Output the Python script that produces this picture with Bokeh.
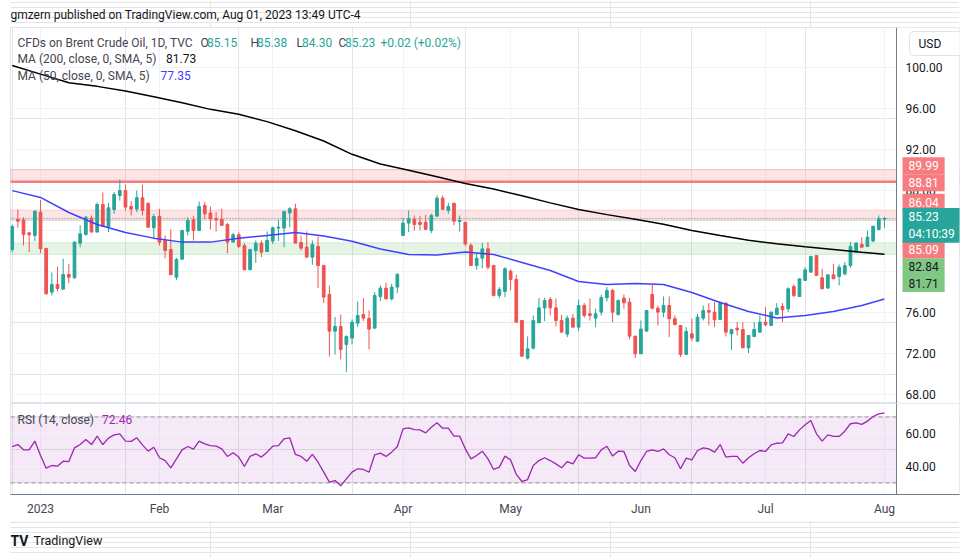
from bokeh.plotting import figure
from bokeh.models import (ColumnDataSource, Range1d, FixedTicker, Label, BoxAnnotation,
                          Span, Grid, LinearAxis, PrintfTickFormatter)
from bokeh.layouts import column
from bokeh.embed import file_html
from bokeh.resources import INLINE

# ---------------- data ----------------
opens = [82.19, 85.13, 85.09, 83.82, 83.56, 85.84, 82.29, 78.02, 78.77, 78.31,
         79.74, 79.42, 82.81, 83.66, 85.26, 83.89, 86.59, 84.44, 86.10, 87.47,
         87.96, 86.40, 86.14, 87.25, 86.69, 84.31, 85.42, 83.07, 82.19, 79.48,
         81.24, 83.98, 85.09, 84.05, 86.50, 85.77, 85.19, 85.13, 84.64, 82.91,
         83.63, 82.58, 80.20, 82.09, 82.81, 81.99, 83.01, 84.28, 84.28, 85.77,
         86.17, 82.87, 82.42, 81.44, 82.48, 80.62, 77.79, 74.20, 74.66, 72.90,
         73.52, 74.98, 75.83, 75.44, 74.49, 77.59, 78.41, 77.36, 78.51, 83.56,
         84.77, 85.13, 84.86, 84.86, 84.05, 85.45, 87.21, 86.01, 86.72, 84.93,
         84.86, 82.58, 80.62, 81.34, 82.25, 80.62, 77.69, 78.08, 80.07, 79.26,
         75.24, 71.56, 72.54, 75.02, 76.48, 77.30, 76.48, 75.24, 73.91, 75.47,
         74.59, 76.71, 75.90, 75.47, 76.06, 77.46, 78.18, 75.83, 77.43, 77.04,
         73.71, 71.98, 74.20, 77.79, 76.45, 76.06, 76.71, 75.41, 74.76, 71.92,
         73.94, 73.22, 75.47, 76.22, 76.06, 75.34, 76.94, 73.94, 74.49, 74.36,
         72.57, 73.68, 74.10, 75.08, 74.76, 75.83, 76.61, 76.38, 78.57, 77.59,
         79.16, 79.97, 81.60, 79.42, 78.41, 79.71, 79.55, 79.81, 80.62, 81.93,
         82.68, 82.48, 83.01, 84.15, 85.15]
highs = [84.64, 86.10, 85.35, 83.89, 86.01, 87.05, 82.35, 79.94, 80.53, 81.28,
         80.79, 82.97, 84.54, 85.45, 85.52, 86.79, 87.77, 86.76, 87.80, 89.04,
         88.55, 86.92, 87.96, 88.52, 86.82, 85.68, 86.17, 83.56, 84.15, 81.37,
         84.05, 85.35, 85.45, 86.89, 86.82, 86.40, 85.84, 86.17, 84.80, 83.82,
         83.89, 82.81, 82.25, 83.07, 83.07, 83.95, 84.44, 85.09, 85.91, 86.33,
         86.66, 83.56, 83.95, 83.07, 83.46, 80.69, 78.67, 75.57, 75.83, 73.78,
         75.34, 77.10, 77.43, 76.22, 78.02, 78.67, 78.93, 78.83, 79.88, 85.29,
         86.01, 85.52, 85.45, 85.58, 85.68, 87.47, 87.47, 86.76, 86.72, 85.52,
         84.86, 82.81, 81.77, 82.84, 82.91, 80.69, 78.51, 80.46, 80.23, 79.71,
         75.30, 73.68, 75.73, 77.43, 77.46, 77.53, 77.40, 75.80, 75.73, 75.90,
         77.30, 76.94, 77.40, 76.39, 77.76, 78.51, 78.34, 77.30, 77.79, 77.46,
         73.71, 75.24, 76.29, 78.73, 76.71, 77.59, 77.59, 75.73, 74.76, 74.59,
         75.41, 75.90, 76.71, 76.94, 77.04, 77.10, 77.04, 74.43, 75.08, 75.08,
         73.78, 75.08, 75.73, 76.55, 76.12, 76.94, 76.94, 78.50, 78.77, 79.32,
         80.46, 81.60, 81.60, 80.30, 79.71, 80.79, 80.72, 80.95, 82.91, 82.91,
         83.40, 84.05, 84.47, 85.52, 85.38]
lows = [81.93, 84.31, 82.58, 81.93, 83.01, 81.83, 77.79, 77.69, 78.11, 78.31,
        78.90, 79.32, 82.42, 83.56, 83.89, 83.89, 84.44, 83.89, 85.68, 86.98,
        86.01, 85.52, 85.84, 85.52, 84.37, 83.23, 82.58, 81.34, 79.71, 79.22,
        81.24, 83.56, 83.07, 83.98, 85.19, 84.15, 83.95, 84.54, 81.83, 82.91,
        82.35, 80.20, 80.20, 80.89, 81.44, 81.93, 82.74, 83.01, 82.42, 84.37,
        82.81, 82.09, 81.44, 80.69, 78.41, 76.94, 71.72, 71.92, 71.43, 70.19,
        72.90, 74.59, 75.18, 72.41, 74.49, 77.14, 77.30, 77.20, 77.92, 83.56,
        83.89, 84.05, 84.05, 84.15, 83.79, 85.45, 86.10, 85.68, 84.54, 83.95,
        82.52, 80.62, 80.23, 80.36, 80.23, 77.59, 77.43, 77.53, 78.18, 75.08,
        71.70, 71.43, 72.41, 75.02, 75.18, 75.73, 74.66, 74.10, 73.61, 74.59,
        74.20, 75.51, 75.24, 74.59, 75.73, 77.10, 75.08, 75.73, 76.39, 73.39,
        71.56, 71.98, 74.20, 76.32, 74.76, 75.57, 73.61, 74.76, 71.66, 71.92,
        73.22, 73.12, 75.24, 74.76, 74.59, 75.34, 73.68, 72.37, 73.78, 72.57,
        72.05, 73.61, 74.10, 74.66, 74.76, 75.83, 75.08, 76.06, 77.53, 77.59,
        79.16, 79.97, 79.65, 78.34, 78.34, 79.32, 78.67, 79.65, 80.40, 81.93,
        82.35, 82.48, 82.91, 84.05, 84.30]
closes = [84.44, 84.96, 83.66, 83.63, 85.94, 82.25, 77.85, 78.77, 78.37, 79.74,
          79.48, 82.91, 83.72, 85.35, 83.89, 86.59, 84.44, 86.27, 87.57, 87.96,
          86.33, 86.14, 87.25, 86.01, 84.37, 85.42, 82.91, 82.09, 79.71, 81.21,
          84.05, 85.03, 84.05, 86.40, 85.68, 85.19, 85.09, 84.54, 82.91, 83.63,
          82.48, 80.20, 82.19, 82.81, 81.93, 83.07, 84.31, 84.37, 85.91, 86.17,
          82.81, 82.32, 81.44, 82.68, 80.62, 77.53, 74.20, 74.66, 72.41, 73.68,
          75.08, 75.73, 75.47, 74.40, 77.69, 78.41, 77.36, 78.51, 79.75, 84.77,
          85.19, 84.64, 84.64, 84.15, 85.52, 87.21, 86.10, 86.40, 84.96, 85.03,
          82.74, 80.62, 81.34, 82.25, 80.46, 77.69, 78.28, 80.30, 79.26, 75.08,
          71.75, 72.47, 75.24, 76.48, 77.20, 76.48, 75.24, 74.10, 75.47, 74.59,
          76.71, 75.73, 75.73, 75.90, 77.50, 78.18, 76.06, 77.20, 76.97, 73.71,
          71.98, 74.40, 76.22, 76.45, 76.06, 76.71, 75.41, 74.85, 71.92, 74.17,
          73.52, 75.57, 76.22, 76.06, 75.31, 76.94, 74.10, 74.36, 74.33, 72.57,
          73.78, 74.36, 75.08, 74.82, 76.06, 76.45, 76.29, 78.34, 77.69, 79.32,
          80.20, 81.50, 79.65, 78.34, 79.71, 79.32, 80.46, 80.62, 82.48, 82.81,
          82.42, 83.40, 84.47, 85.19, 85.23]

ma_bars = [0, 5, 10, 15, 20, 25, 30, 35, 40, 45, 50, 55, 60, 65, 70, 75,
           80, 85, 90, 95, 100, 105, 110, 115, 120, 125, 130, 135, 140, 145, 150, 154]
ma200 = [100.20, 99.35, 98.50, 98.15, 97.70, 97.13, 96.55, 95.90, 95.42, 94.70,
         93.80, 92.80, 91.50, 90.55, 89.95, 89.30, 88.65, 88.10, 87.45, 86.75,
         86.10, 85.60, 85.15, 84.65, 84.05, 83.55, 83.10, 82.75, 82.45, 82.20,
         81.93, 81.73]
ma50 = [87.95, 87.28, 85.81, 84.64, 83.86, 83.30, 82.91, 82.91, 83.30, 83.56,
        83.86, 83.51, 83.00, 82.23, 81.70, 81.65, 81.95, 81.70, 80.92, 80.14,
        79.06, 78.77, 78.86, 78.77, 77.98, 77.00, 76.13, 75.49, 75.73, 76.13,
        76.71, 77.35]

rsi = [52.1, 53.3, 50.1, 50.1, 55.4, 46.7, 39.0, 40.6, 40.2, 43.2,
       43.0, 51.3, 53.3, 56.4, 53.3, 58.4, 53.3, 57.2, 59.2, 59.8,
       55.4, 55.2, 57.4, 53.1, 49.3, 51.7, 45.3, 43.6, 39.2, 44.6,
       50.1, 52.1, 50.5, 55.4, 53.7, 52.7, 52.3, 50.7, 46.1, 48.3,
       45.7, 40.0, 46.1, 47.7, 45.7, 48.7, 52.3, 52.7, 56.8, 57.4,
       47.3, 46.1, 43.2, 47.3, 42.6, 36.6, 30.5, 31.5, 28.3, 32.5,
       36.6, 38.6, 38.2, 36.6, 47.1, 48.1, 46.1, 48.7, 52.1, 62.8,
       63.4, 62.4, 62.2, 60.4, 63.8, 66.5, 63.2, 63.2, 58.4, 58.4,
       50.7, 44.6, 46.7, 49.3, 44.6, 38.2, 39.6, 46.3, 44.0, 35.2,
       30.9, 32.1, 40.6, 43.6, 45.3, 43.6, 41.6, 39.2, 43.0, 41.6,
       47.1, 45.1, 45.1, 45.3, 50.1, 52.3, 46.3, 49.3, 49.1, 40.6,
       37.0, 43.6, 49.1, 50.1, 49.1, 50.7, 47.1, 45.3, 38.6, 45.1,
       44.0, 49.7, 51.3, 50.7, 48.7, 53.3, 45.7, 46.1, 46.1, 42.0,
       45.3, 47.7, 49.7, 49.1, 53.1, 54.1, 54.3, 59.8, 58.2, 62.2,
       65.3, 67.9, 59.8, 55.4, 59.2, 58.2, 58.2, 61.4, 65.9, 66.5,
       65.5, 67.5, 70.3, 71.9, 72.46]

month_ticks = [5, 26, 46, 69, 88, 111, 133, 154]
month_labels = ["2023", "Feb", "Mar", "Apr", "May", "Jun", "Jul", "Aug"]
price_ticks = [68, 72, 76, 80, 84, 88, 92, 96, 100]
rsi_ticks = [40, 60]
rsi_bands = [30, 70]

red_zone_upper = [88.81, 89.99]
red_zone_lower = [85.09, 86.04]
green_zone = [81.71, 82.84]
last_price = 85.23
ma200_last = 81.73
ma50_last = 77.35
rsi_last = 72.46
countdown = "04:10:39"
change_text = "+0.02 (+0.02%)"

# ---------------- styling ----------------
FONT = "Roboto"
UP, DOWN = "#26a69a", "#ef5350"
GRID = "#f0f3fa"
TXT = "#131722"
LEG = "#434651"
RED_L, GREEN_L = "#f77c80", "#81c784"
MA50_C = "#4040ff"
RSI_C = "#9c27b0"
W = 960

# bar axis: bars end at the price scale; the scale column lies inside the frame
SCALE_X = 156.13
xr = Range1d(-0.30, 167.25)


def pane(height, yr, bottom):
    p = figure(width=W, height=height, x_range=xr, y_range=yr,
               output_backend="svg", toolbar_location=None,
               x_axis_location=None, y_axis_location=None,
               min_border_left=10, min_border_right=1,
               min_border_top=0, min_border_bottom=bottom,
               background_fill_color="white", border_fill_color="white",
               outline_line_color="#e0e3eb")
    p.title.visible = False
    p.add_layout(Grid(dimension=0, ticker=FixedTicker(ticks=month_ticks),
                      grid_line_color=GRID))
    return p


def scale_axis(p, ticks):
    p.add_layout(Grid(dimension=1, ticker=FixedTicker(ticks=ticks), grid_line_color=GRID))
    # white cover for the price-scale column
    p.add_layout(BoxAnnotation(left=SCALE_X, fill_color="white", fill_alpha=1.0,
                               line_color=None, level="glyph"))
    ax = LinearAxis(fixed_location=SCALE_X, ticker=FixedTicker(ticks=ticks),
                    formatter=PrintfTickFormatter(format="%.2f"),
                    axis_line_color="#787b86", major_tick_line_color=None,
                    minor_tick_line_color=None, major_tick_out=0, major_tick_in=0,
                    major_label_standoff=9, major_label_text_font=FONT,
                    major_label_text_font_size="12px", major_label_text_color=TXT)
    p.add_layout(ax, "right")


def text(fig, t, x, y, dx=0, dy=0, color=LEG, size="12px", bold=False, align="left"):
    fig.add_layout(Label(x=x, y=y, x_offset=dx, y_offset=dy, text=t, text_font=FONT,
                         text_font_size=size, text_color=color, text_baseline="middle",
                         text_align=align,
                         text_font_style="bold" if bold else "normal"))


def strip(height):
    # same side borders as the panes, so its frame spans page x 10..959
    f = figure(width=W, height=height,
               x_range=Range1d(0, W - 11), y_range=Range1d(0, height),
               output_backend="svg", toolbar_location=None,
               x_axis_location=None, y_axis_location=None,
               min_border_left=10, min_border_right=1, min_border_top=0, min_border_bottom=0,
               outline_line_color=None, background_fill_color="white",
               border_fill_color="white")
    f.title.visible = False
    return f


# ---------------- header strip ----------------
head = strip(27)
text(head, "gmzern published on TradingView.com, Aug 01, 2023 13:49 UTC-4", 0, 13,
     color=TXT, size="12px")

# ---------------- price pane ----------------
p = pane(376, Range1d(67.12, 103.91), 0)

for lo, hi, lc in [(red_zone_upper[0], red_zone_upper[1], RED_L),
                   (red_zone_lower[0], red_zone_lower[1], RED_L),
                   (green_zone[0], green_zone[1], GREEN_L)]:
    p.add_layout(BoxAnnotation(bottom=lo, top=hi, fill_color=lc, fill_alpha=0.2,
                               line_color=lc, line_width=1, level="underlay"))
p.add_layout(Span(location=red_zone_upper[0], dimension="width",
                  line_color=RED_L, line_width=2.5, level="underlay"))
p.add_layout(Span(location=last_price, dimension="width", line_color=UP,
                  line_width=1, line_dash="1 2", level="underlay"))

idx = list(range(len(opens)))
src = ColumnDataSource(dict(
    x=idx, h=highs, l=lows,
    top=[max(o, c) for o, c in zip(opens, closes)],
    bot=[min(o, c) for o, c in zip(opens, closes)],
    col=[UP if c >= o else DOWN for o, c in zip(opens, closes)]))
p.segment(x0="x", y0="h", x1="x", y1="l", line_color="col", line_width=1, source=src)
p.vbar(x="x", width=0.48, top="top", bottom="bot", fill_color="col",
       line_color="col", line_width=1, source=src)

p.line(ma_bars, ma200, line_color="#000000", line_width=1.5)
p.line(ma_bars, ma50, line_color=MA50_C, line_width=1.5)

scale_axis(p, price_ticks)

x0 = xr.start
ytop = p.y_range.end
text(p, "CFDs on Brent Crude Oil, 1D, TVC", x0, ytop, 7, -15)
ohlc_txt = [("O", 190, LEG), ("%.2f" % opens[-1], 196.5, UP),
            ("H", 240, LEG), ("%.2f" % highs[-1], 246.5, UP),
            ("L", 286, LEG), ("%.2f" % lows[-1], 291.5, UP),
            ("C", 328, LEG), ("%.2f" % closes[-1], 334.5, UP),
            (change_text, 370, UP)]
for t, dx, c in ohlc_txt:
    text(p, t, x0, ytop, dx, -15, c)
text(p, "MA (200, close, 0, SMA, 5)", x0, ytop, 7, -31)
text(p, "%.2f" % ma200_last, x0, ytop, 155.5, -31, TXT)
text(p, "MA (50, close, 0, SMA, 5)", x0, ytop, 7, -48)
text(p, "%.2f" % ma50_last, x0, ytop, 150, -48, MA50_C)


def tag(fig, t, price, dy, bg, fg, pv=4):
    fig.add_layout(Label(x=SCALE_X, y=price, x_offset=6, y_offset=dy, text=t,
                         text_font=FONT, text_font_size="12px", text_color=fg,
                         text_baseline="middle", text_align="left",
                         background_fill_color=bg, background_fill_alpha=1.0,
                         padding=dict(left=6, right=6, top=pv, bottom=pv)))


tag(p, "%.2f" % red_zone_upper[1], red_zone_upper[1], 4, RED_L, "white")
tag(p, "%.2f" % red_zone_upper[0], red_zone_upper[0], -1, RED_L, "white")
tag(p, "%.2f" % red_zone_lower[1], red_zone_lower[1], 8, RED_L, "white")
tag(p, "%.2f" % green_zone[1], green_zone[1], -24, GREEN_L, TXT)
tag(p, "%.2f" % green_zone[0], green_zone[0], -29, GREEN_L, TXT)
tag(p, "%.2f" % red_zone_lower[0], red_zone_lower[0], -30, RED_L, "white")
tag(p, "%.2f\n%s" % (last_price, countdown), last_price, -7, UP, "white", pv=2)

p.add_layout(Label(x=SCALE_X, y=ytop, x_offset=13, y_offset=-16, text="USD",
                   text_font=FONT, text_font_size="12px", text_color=TXT,
                   text_baseline="middle", text_align="left",
                   background_fill_color="white", border_line_color="#e0e3eb",
                   border_radius=4, padding=dict(left=9, right=27, top=5, bottom=5)))

# ---------------- RSI pane ----------------
r = pane(118, Range1d(23.03, 78.18), 27)
r.add_layout(BoxAnnotation(bottom=rsi_bands[0], top=rsi_bands[1], fill_color=RSI_C,
                           fill_alpha=0.1, line_color=None, level="underlay"))
for b in rsi_bands:
    r.add_layout(Span(location=b, dimension="width", line_color="#9598a1",
                      line_width=1, line_dash="4 3", level="underlay"))
r.line(idx, rsi, line_color=RSI_C, line_width=1.3)
scale_axis(r, rsi_ticks)

xa = LinearAxis(ticker=FixedTicker(ticks=month_ticks),
                major_label_overrides={t: l for t, l in zip(month_ticks, month_labels)},
                axis_line_color="#787b86", major_tick_line_color=None,
                minor_tick_line_color=None, major_tick_out=0, major_tick_in=0,
                major_label_standoff=7, major_label_text_font=FONT,
                major_label_text_font_size="12px", major_label_text_color=LEG)
r.add_layout(xa, "below")

text(r, "RSI (14, close)", x0, r.y_range.end, 7, -16)
text(r, "%.2f" % rsi_last, x0, r.y_range.end, 91.5, -16, RSI_C)

# ---------------- footer strip ----------------
foot = strip(36)
foot.add_layout(BoxAnnotation(left=0, right=W - 11, top=36, bottom=35, fill_color="#e0e3eb",
                              fill_alpha=1.0, line_color=None))
text(foot, "TV", 0, 17, color=TXT, size="14px", bold=True)
text(foot, "TradingView", 23, 17, color=TXT, size="12.5px")

layout = column(head, p, r, foot, spacing=0)
open("out.html", "w").write(file_html(layout, INLINE))
